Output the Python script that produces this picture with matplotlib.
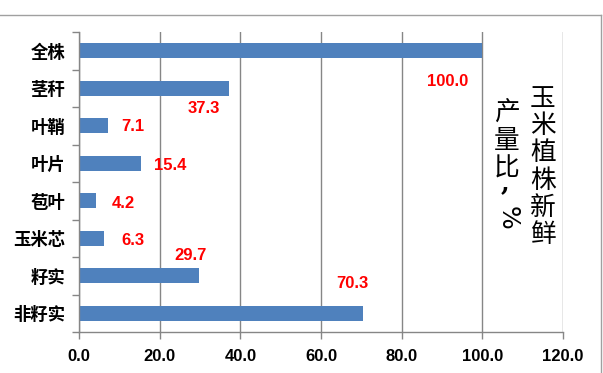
import matplotlib
matplotlib.use("Agg")
import matplotlib.pyplot as plt
from matplotlib.lines import Line2D

categories = ["全株", "茎秆", "叶鞘", "叶片", "苞叶", "玉米芯", "籽实", "非籽实"]
values = [100.0, 37.3, 7.1, 15.4, 4.2, 6.3, 29.7, 70.3]
value_labels = ["100.0", "37.3", "7.1", "15.4", "4.2", "6.3", "29.7", "70.3"]
xticks = [0, 20, 40, 60, 80, 100, 120]
xtick_labels = ["0.0", "20.0", "40.0", "60.0", "80.0", "100.0", "120.0"]
title_col1 = "玉米植株新鲜"
title_col2 = "产量比"

# label placement offsets (style): (dx in data units, dy in rows, downward positive)
label_offsets = [(-8.6, 0.83), (-6.4, 0.54), (6.3, 0.03), (7.1, 0.07),
                 (6.7, 0.07), (7.1, 0.06), (-2.0, -0.55), (-2.5, -0.79)]

plt.rcParams['font.family'] = ['Noto Sans CJK SC', 'DejaVu Sans']

fig = plt.figure(figsize=(6.03, 3.73), dpi=100)
ax = fig.add_axes([79/603, 41/373, (563-79)/603, 300/373])

ypos = list(range(len(categories)))
ax.barh(ypos, values, height=0.39, color="#4F81BD", zorder=3)
ax.set_ylim(len(categories) - 0.5, -0.5)
ax.set_xlim(0, 120)

ax.set_yticks([i + 0.5 for i in range(-1, len(categories))], minor=False)
ax.set_yticklabels([])
ax.set_yticks(ypos, minor=True)
ax.set_yticklabels(categories, minor=True, fontsize=12.5, fontweight='bold')
ax.tick_params(axis='y', which='minor', length=0, pad=10)
ax.tick_params(axis='y', which='major', length=5, color="#868686", width=1)

ax.set_xticks(xticks)
ax.set_xticklabels(xtick_labels, fontsize=12, fontweight='bold', family=['Liberation Sans', 'DejaVu Sans'])
ax.tick_params(axis='x', length=5, color="#868686", width=1, pad=7)

ax.grid(axis='x', color="#868686", linewidth=1, zorder=0)
for s in ['top', 'right']:
    ax.spines[s].set_visible(False)
for s in ['left', 'bottom']:
    ax.spines[s].set_color("#868686")
    ax.spines[s].set_linewidth(1)
    ax.spines[s].set_zorder(4)

for i, (v, lab, (dx, dy)) in enumerate(zip(values, value_labels, label_offsets)):
    ax.text(v + dx, i + dy, lab, color="#FF0000", fontsize=12, fontweight='bold',
            ha='center', va='center', family=['Liberation Sans', 'DejaVu Sans'], zorder=5)

# vertical two-column axis title
fig.text(543/603, 1 - 86/373, "\n".join(title_col1), fontsize=18.5, ha='center', va='top',
         linespacing=1.06)
fig.text(507/603, 1 - 101/373, "\n".join(title_col2), fontsize=18.5, ha='center', va='top',
         linespacing=1.06)
fig.text(505/603, 1 - 190/373, ",", fontsize=18, fontweight='bold', ha='center', va='baseline',
         family=['DejaVu Serif'])
fig.text(508/603, 1 - 218/373, "%", fontsize=18, ha='center', va='center', rotation=-90,
         family=['DejaVu Sans'])

# outer frame
fig.add_artist(Line2D([0, 601/603], [1 - 15/373, 1 - 15/373], transform=fig.transFigure,
                      color="#a0a0a0", linewidth=1))
fig.add_artist(Line2D([601/603, 601/603], [1 - 15/373, 0], transform=fig.transFigure,
                      color="#a0a0a0", linewidth=1))

fig.savefig("out.png", dpi=100)
